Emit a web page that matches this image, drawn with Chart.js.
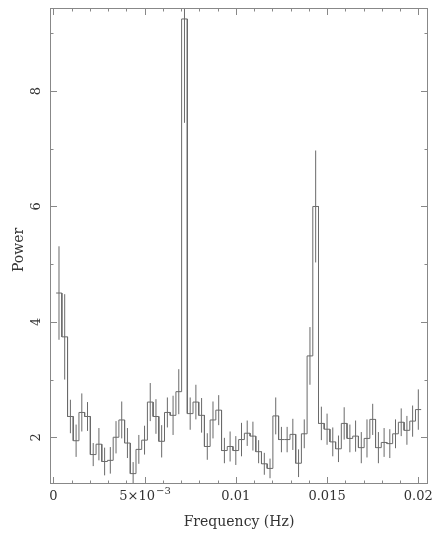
<!DOCTYPE html>
<html>
<head>
<meta charset="utf-8">
<script src="https://cdn.jsdelivr.net/npm/chart.js@4.4.1/dist/chart.umd.min.js"></script>
<style>
  html, body { margin: 0; padding: 0; background: #fff; }
  canvas { display: block; }
</style>
</head>
<body>
<canvas id="psd" width="435" height="537"></canvas>
<script>
// Power spectrum, bins of 1/3200 Hz (bin k centred on k/3200 Hz)
const binWidth = 1 / 3200;
const power = [
  4.50, 3.74, 2.36, 1.94, 2.43, 2.36, 1.70, 1.88, 1.58, 1.60,
  2.00, 2.30, 1.90, 1.37, 1.79, 1.95, 2.61, 2.36, 1.93, 2.43,
  2.38, 2.79, 9.25, 2.41, 2.61, 2.38, 1.84, 2.30, 2.47, 1.77,
  1.84, 1.77, 1.96, 2.07, 2.02, 1.75, 1.54, 1.46, 2.37, 1.96,
  1.96, 2.05, 1.55, 2.06, 3.41, 6.00, 2.24, 2.14, 1.92, 1.80,
  2.24, 1.98, 2.02, 1.82, 1.98, 2.31, 1.82, 1.91, 1.89, 2.06,
  2.26, 2.12, 2.28, 2.48
];
const powerErr = [
  0.81, 0.74, 0.29, 0.28, 0.33, 0.25, 0.20, 0.28, 0.24, 0.23,
  0.28, 0.32, 0.26, 0.20, 0.25, 0.25, 0.33, 0.30, 0.28, 0.26,
  0.34, 0.39, 1.80, 0.28, 0.30, 0.30, 0.23, 0.32, 0.26, 0.22,
  0.26, 0.25, 0.29, 0.22, 0.25, 0.20, 0.19, 0.17, 0.32, 0.22,
  0.22, 0.27, 0.24, 0.25, 0.50, 0.97, 0.29, 0.27, 0.25, 0.23,
  0.28, 0.24, 0.27, 0.27, 0.33, 0.27, 0.27, 0.25, 0.25, 0.25,
  0.24, 0.25, 0.27, 0.35
];
const freq = power.map((_, i) => (i + 1) * binWidth);

// axes
const xTickValues = [0, 0.005, 0.01, 0.015, 0.02];
const xTickLabels = ['0', '5×10', '0.01', '0.015', '0.02'];
const xMinorStep = 0.001;
const yTickValues = [2, 4, 6, 8];
const yMinorStep = 1;
const xTitle = 'Frequency (Hz)';
const yTitle = 'Power';

const FONT = '"DejaVu Serif", serif';
const INK = '#6a6a6a';

// histogram outline: left and right edge of every bin
const steps = [];
freq.forEach((f, i) => {
  steps.push({ x: f - binWidth / 2, y: power[i] });
  steps.push({ x: f + binWidth / 2, y: power[i] });
});

const errorBars = {
  id: 'errorBars',
  afterDatasetsDraw(chart) {
    const { ctx, chartArea: a, scales: { x, y } } = chart;
    ctx.save();
    ctx.beginPath();
    ctx.rect(a.left, a.top, a.right - a.left, a.bottom - a.top);
    ctx.clip();
    ctx.strokeStyle = INK;
    ctx.lineWidth = 1;
    freq.forEach((f, i) => {
      const px = x.getPixelForValue(f);
      ctx.beginPath();
      ctx.moveTo(px, y.getPixelForValue(power[i] + powerErr[i]));
      ctx.lineTo(px, y.getPixelForValue(power[i] - powerErr[i]));
      ctx.stroke();
    });
    ctx.restore();
  }
};

const frame = {
  id: 'frame',
  afterDraw(chart) {
    const { ctx, chartArea: a, scales: { x, y } } = chart;
    ctx.save();
    ctx.strokeStyle = '#888';
    ctx.lineWidth = 1;
    ctx.strokeRect(Math.round(a.left) + 0.5, Math.round(a.top) + 0.5,
      Math.round(a.right - a.left) - 1, Math.round(a.bottom - a.top) - 1);

    const isMajor = (v, list) => list.some(t => Math.abs(t - v) < 1e-9);
    ctx.beginPath();
    for (let v = 0; v <= 0.02 + 1e-9; v += xMinorStep) {
      const px = Math.round(x.getPixelForValue(v)) + 0.5;
      const len = isMajor(v, xTickValues) ? 7 : 3.5;
      ctx.moveTo(px, a.bottom); ctx.lineTo(px, a.bottom - len);
      ctx.moveTo(px, a.top); ctx.lineTo(px, a.top + len);
    }
    for (let v = 2; v <= 9 + 1e-9; v += yMinorStep) {
      const py = Math.round(y.getPixelForValue(v)) + 0.5;
      const len = isMajor(v, yTickValues) ? 7 : 3.5;
      ctx.moveTo(a.left, py); ctx.lineTo(a.left + len, py);
      ctx.moveTo(a.right, py); ctx.lineTo(a.right - len, py);
    }
    ctx.stroke();

    // tick labels
    ctx.fillStyle = '#333';
    ctx.textBaseline = 'middle';
    xTickValues.forEach((v, i) => {
      const px = x.getPixelForValue(v);
      if (v === 0.005) {
        const base = xTickLabels[i];
        ctx.font = '13px ' + FONT;
        const w1 = ctx.measureText(base).width;
        ctx.font = '10px ' + FONT;
        const w2 = ctx.measureText('−3').width;
        const start = px - (w1 + w2) / 2;
        ctx.textAlign = 'left';
        ctx.font = '13px ' + FONT;
        ctx.fillText(base, start, 497);
        ctx.font = '10px ' + FONT;
        ctx.fillText('−3', start + w1 + 1, 491);
      } else {
        ctx.font = '13px ' + FONT;
        ctx.textAlign = 'center';
        ctx.fillText(xTickLabels[i], px, 497);
      }
    });
    ctx.font = '13px ' + FONT;
    yTickValues.forEach(v => {
      const py = y.getPixelForValue(v);
      ctx.save();
      ctx.translate(37, py);
      ctx.rotate(-Math.PI / 2);
      ctx.textAlign = 'center';
      ctx.fillText(String(v), 0, 0);
      ctx.restore();
    });

    // axis titles
    ctx.font = '14px ' + FONT;
    ctx.textAlign = 'center';
    ctx.fillText(xTitle, (a.left + a.right) / 2, 522);
    ctx.save();
    ctx.translate(19, (a.top + a.bottom) / 2 + 4);
    ctx.rotate(-Math.PI / 2);
    ctx.fillText(yTitle, 0, 0);
    ctx.restore();
    ctx.restore();
  }
};

new Chart(document.getElementById('psd'), {
  type: 'line',
  data: {
    datasets: [{
      data: steps,
      borderColor: INK,
      borderWidth: 1,
      pointRadius: 0,
      tension: 0,
      fill: false
    }]
  },
  options: {
    responsive: false,
    animation: false,
    events: [],
    layout: { padding: { left: 50, right: 7, top: 8, bottom: 53 } },
    plugins: { legend: { display: false }, tooltip: { enabled: false } },
    scales: {
      x: { type: 'linear', min: -0.00018, max: 0.02053, display: false },
      y: { type: 'linear', min: 1.19, max: 9.44, display: false }
    }
  },
  plugins: [errorBars, frame]
});
</script>
</body>
</html>
